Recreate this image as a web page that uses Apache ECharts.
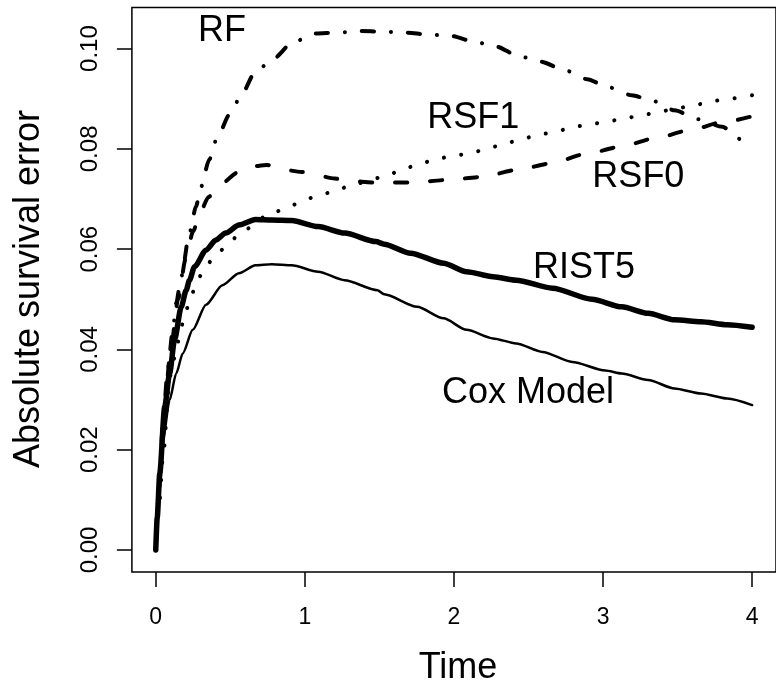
<!DOCTYPE html>
<html>
<head>
<meta charset="utf-8">
<script src="https://cdn.jsdelivr.net/npm/echarts@6/dist/echarts.min.js"></script>
<style>
html,body{margin:0;padding:0;background:#fff;}
#chart{width:776px;height:690px;}
</style>
</head>
<body>
<div id="chart"></div>
<script>
// ---- data ----
const xTicks = [0, 1, 2, 3, 4];
const yTicks = [0, 0.02, 0.04, 0.06, 0.08, 0.10];

const rfT = [0,0.02,0.05,0.08,0.115,0.137,0.171,0.226,0.270,0.303,0.359,0.414,0.496,0.580,0.666,0.790,0.916,1.067,1.222,1.366,1.521,1.675,1.831,1.985,2.133,2.284,2.435,2.583,2.742,2.893,3.037,3.192,3.342,3.479,3.641,3.800,3.926,4.0];
const rfV = [0,0.012,0.026,0.036,0.0440,0.0492,0.0545,0.0632,0.0685,0.0724,0.0779,0.0824,0.0869,0.0911,0.0953,0.0980,0.1012,0.1030,0.1032,0.1035,0.1034,0.1032,0.1028,0.1025,0.1014,0.1004,0.0985,0.0974,0.0957,0.0939,0.0923,0.0907,0.0895,0.0877,0.0859,0.0844,0.0819,0.0813];

const rsf1T = [0,0.02,0.05,0.088,0.104,0.133,0.159,0.188,0.226,0.270,0.325,0.403,0.491,0.576,0.775,0.883,0.989,1.096,1.207,1.317,1.532,1.649,1.760,1.875,1.992,2.107,2.222,2.335,2.450,2.565,2.678,2.794,2.908,3.026,3.143,3.262,3.375,3.497,3.612,3.727,3.845,4.0];
const rsf1V = [0,0.008,0.019,0.0322,0.0359,0.0392,0.0427,0.0461,0.0495,0.0530,0.0562,0.0588,0.0612,0.0636,0.0671,0.0683,0.0697,0.0708,0.0716,0.0729,0.0744,0.0758,0.0769,0.0779,0.0786,0.0791,0.0800,0.0810,0.0819,0.0828,0.0834,0.0843,0.0849,0.0854,0.0861,0.0867,0.0874,0.0881,0.0887,0.0895,0.0900,0.0907];

const rsf0T = [0,0.02,0.05,0.1,0.15,0.2,0.25,0.3,0.354,0.425,0.558,0.624,0.746,0.823,0.978,1.067,1.200,1.288,1.474,1.720,1.952,2.185,2.424,2.649,2.888,3.114,3.347,3.579,3.798,4.0];
const rsf0V = [0,0.011,0.025,0.040,0.050,0.058,0.0635,0.0675,0.0704,0.0728,0.0754,0.0764,0.0768,0.0760,0.0754,0.0748,0.0741,0.0736,0.0733,0.0733,0.0738,0.0744,0.0758,0.0771,0.0790,0.0804,0.0821,0.0837,0.0853,0.0865];

const ristT = [0,0.01,0.027,0.06,0.093,0.126,0.171,0.204,0.226,0.26,0.337,0.403,0.469,0.558,0.669,0.779,0.912,1.089,1.266,1.476,1.532,1.709,1.930,2.085,2.262,2.417,2.661,2.926,3.125,3.302,3.479,3.657,3.833,4.0];
const ristV = [0,0.0065,0.0153,0.0286,0.0352,0.0419,0.0485,0.0518,0.0538,0.0565,0.0598,0.0618,0.0632,0.0648,0.0659,0.0658,0.0657,0.0645,0.0632,0.0615,0.0610,0.0592,0.0572,0.0555,0.0545,0.0538,0.0522,0.0500,0.0485,0.0472,0.0459,0.0455,0.0449,0.0444];

const coxT = [0,0.01,0.027,0.048,0.093,0.137,0.181,0.248,0.337,0.447,0.558,0.669,0.779,0.912,1.089,1.266,1.487,1.532,1.753,1.930,2.085,2.262,2.417,2.594,2.793,3.015,3.125,3.302,3.479,3.657,3.833,4.0];
const coxV = [0,0.005,0.0120,0.0219,0.0299,0.0352,0.0392,0.0439,0.0489,0.0528,0.0552,0.0568,0.0570,0.0568,0.0555,0.0538,0.0518,0.0510,0.0485,0.0462,0.0439,0.0422,0.0412,0.0395,0.0375,0.0358,0.0352,0.0339,0.0322,0.0312,0.0302,0.0289];

const labelNames = ['RF', 'RSF1', 'RSF0', 'RIST5', 'Cox Model'];
const labelT = [0.445, 2.129, 3.237, 2.872, 2.497];
const labelV = [0.1034, 0.0862, 0.0743, 0.0563, 0.0312];

// ---- chart ----
const FONT = '"Liberation Sans", Arial, Helvetica, sans-serif';
const zip = (a, b) => a.map((t, i) => [t, b[i]]);

const chart = echarts.init(document.getElementById('chart'), null, {renderer: 'canvas'});

function lineSeries(name, t, v, width, dash) {
  return {
    name: name, type: 'line', data: zip(t, v), showSymbol: false, symbol: 'none',
    smooth: 0.25, smoothMonotone: 'x', silent: true, animation: false,
    lineStyle: {color: '#000', width: width, type: dash, cap: 'round', join: 'round'}
  };
}

chart.setOption({
  animation: false,
  backgroundColor: '#fff',
  grid: {left: 131.9, top: 7.5, right: -6.5, bottom: 118, show: true, borderColor: '#000', borderWidth: 1.5, backgroundColor: 'transparent'},
  xAxis: {
    type: 'value', min: -0.16, max: 4.16,
    axisLine: {show: false, onZero: false}, splitLine: {show: false},
    axisTick: {show: true, inside: false, customValues: xTicks, length: 15, lineStyle: {color: '#000', width: 1.5}},
    axisLabel: {customValues: xTicks, fontSize: 23, color: '#000', margin: 34, fontFamily: FONT,
      formatter: v => String(v)}
  },
  yAxis: {
    type: 'value', min: -0.0044, max: 0.1082,
    axisLine: {show: false, onZero: false}, splitLine: {show: false},
    axisTick: {show: true, inside: false, customValues: yTicks, length: 15, lineStyle: {color: '#000', width: 1.5}},
    axisLabel: {customValues: yTicks, fontSize: 24, color: '#000', margin: 30, rotate: 90, fontFamily: FONT,
      formatter: v => Number(v).toFixed(2)}
  },
  series: [
    lineSeries('RF', rfT, rfV, 4, [0.1, 17, 12, 17]),
    lineSeries('RSF1', rsf1T, rsf1V, 4, [0.1, 17.4]),
    lineSeries('RSF0', rsf0T, rsf0V, 4, [12, 23]),
    lineSeries('RIST5', ristT, ristV, 5.5, 'solid'),
    lineSeries('Cox Model', coxT, coxV, 2.5, 'solid')
  ]
});

// in-plot curve labels, placed at data coordinates through the axes
const labelGraphics = labelNames.map((n, i) => {
  const p = chart.convertToPixel({gridIndex: 0}, [labelT[i], labelV[i]]);
  return {type: 'text', x: p[0], y: p[1], silent: true, z: 100,
    style: {text: n, font: '36px ' + FONT, fill: '#000', textAlign: 'center', textVerticalAlign: 'middle'}};
});
chart.setOption({graphic: [
  {type: 'text', x: 458, y: 668, silent: true,
    style: {text: 'Time', font: '36px ' + FONT, fill: '#000', textAlign: 'center', textVerticalAlign: 'middle'}},
  {type: 'text', x: 29, y: 289, rotation: Math.PI / 2, silent: true,
    style: {text: 'Absolute survival error', font: '36px ' + FONT, fill: '#000', textAlign: 'center', textVerticalAlign: 'middle'}}
].concat(labelGraphics)});
</script>
</body>
</html>
